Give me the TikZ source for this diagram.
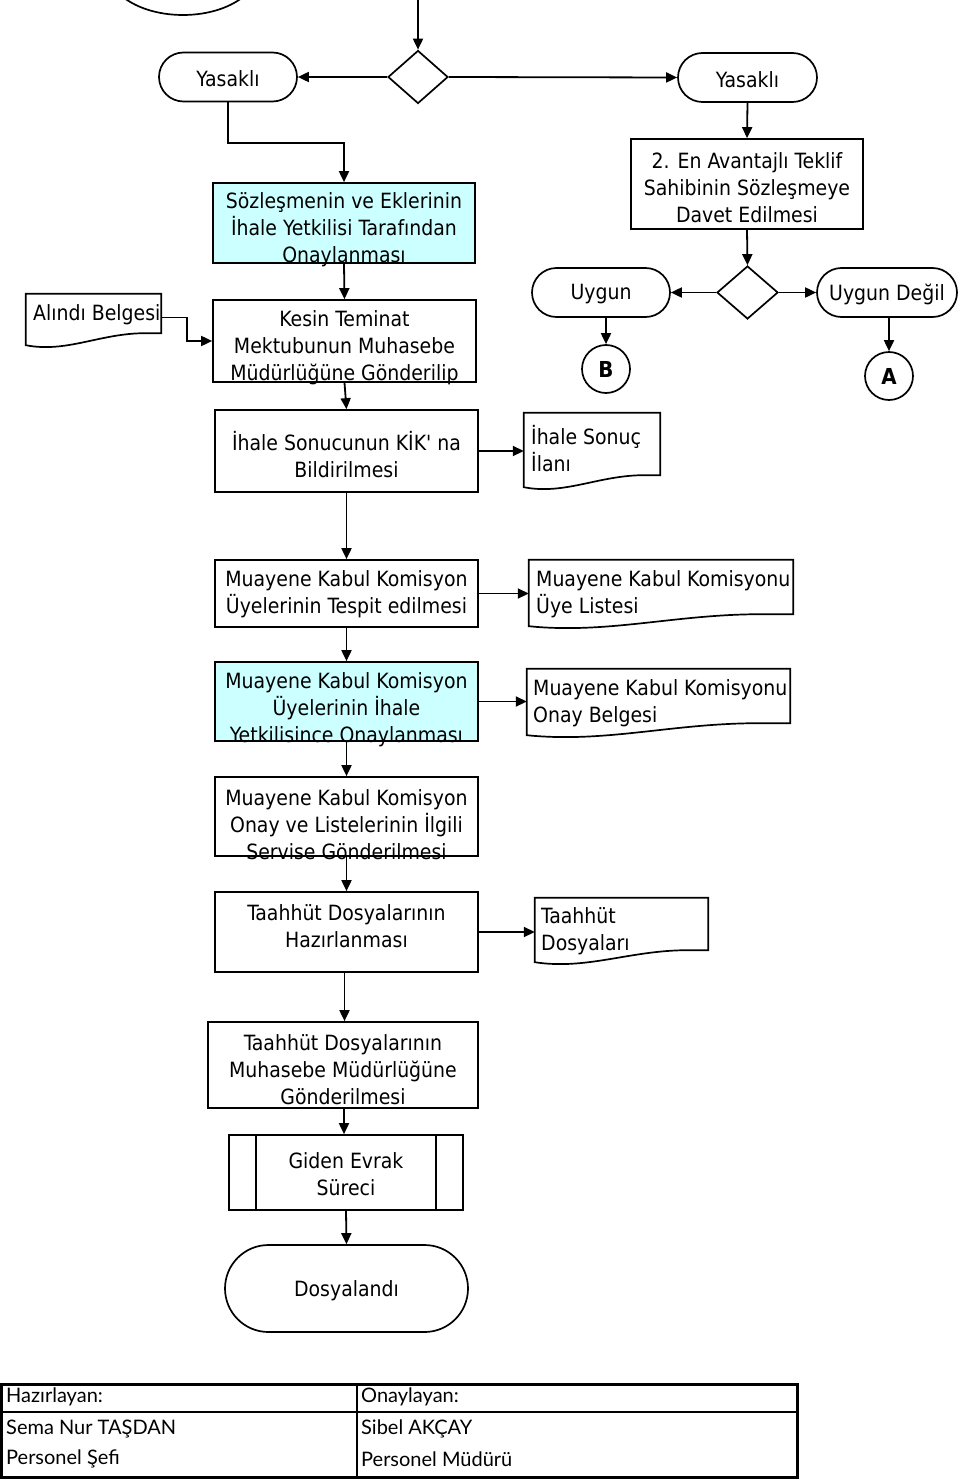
\documentclass[tikz,border=0pt]{standalone}
\usepackage{fontspec}
\setmainfont{DejaVu Sans Condensed}[Ligatures=TeXOff]
\newfontfamily\tablefont{Lato}
\usetikzlibrary{shapes.geometric,shapes.misc,arrows.meta,calc}
\definecolor{cyanbg}{RGB}{204,255,255}
\newcommand{\mainfs}{\fontsize{21}{27}\selectfont}
\newcommand{\docpath}[1]{%
  \draw[line width=1.7pt] (#1.north west) -- (#1.north east) -- (#1.south east)
   -- ($(#1.south west)!0.88!(#1.south east)$)
   .. controls ($(#1.south west)!0.55!(#1.south east)$) and ($(#1.south west)!0.3!(#1.south east)+(0,20)$)
   .. ($(#1.south west)+(0,12)$) -- cycle;}
\tikzset{
  proc/.style={draw, line width=1.7pt, inner sep=0pt},
  procfill/.style={proc, fill=cyanbg},
  term/.style={draw, line width=1.7pt, rounded rectangle, inner sep=0pt},
  dec/.style={draw, diamond, line width=1.7pt, inner sep=0pt},
  conn/.style={draw, circle, line width=1.7pt, minimum size=48pt, inner sep=0pt, font=\fontsize{22}{26}\selectfont\bfseries},
  txt/.style={align=center, font=\mainfs, inner sep=0pt, yshift=-2pt},
  doctxt/.style={align=left, font=\mainfs, inner sep=0pt, anchor=west, yshift=-2pt},
  docnode/.style={inner sep=0pt},
  arr/.style={line width=1.8pt, -{Triangle[length=11pt,width=10pt]}},
  tabtxt/.style={font=\tablefont\fontsize{20}{24}\selectfont, inner sep=0pt, anchor=west}
}
\begin{document}
\begin{tikzpicture}[x=1pt,y=-1pt]
\useasboundingbox (0,0) rectangle (960,1482);
\begin{scope}
\clip (0,0) rectangle (960,1482);
\node[draw, ellipse, line width=1.7pt, minimum width=150pt, minimum height=90pt, inner sep=0pt] (prev) at (183,-30) {};
\end{scope}
\coordinate (topin) at (418,0);

% top row
\node[dec, minimum width=60pt, minimum height=53pt] (dec1) at (418,77) {};
\node[term, minimum width=138pt, minimum height=49pt] (yas1) at (228,77) {};
\node[txt] (yas1t) at (yas1) {Yasaklı};
\node[term, minimum width=139pt, minimum height=49pt] (yas2) at (747.5,77.5) {};
\node[txt] (yas2t) at (yas2) {Yasaklı};

\node[procfill, minimum width=262pt, minimum height=80pt] (s1) at (344,223) {};
\node[txt] (s1t) at ($(s1)+(0,5)$) {Sözleşmenin ve Eklerinin\\İhale Yetkilisi Tarafından\\Onaylanması};

\node[proc, minimum width=232pt, minimum height=90pt] (adv) at (747,184) {};
\node[txt] (advt) at ($(adv)+(0,2)$) {2. En Avantajlı Teklif\\Sahibinin Sözleşmeye\\Davet Edilmesi};

\node[dec, minimum width=61pt, minimum height=53pt] (dec2) at (747.5,292.5) {};
\node[term, minimum width=138pt, minimum height=49pt] (uygun) at (601,292.5) {};
\node[txt] (uygunt) at (uygun) {Uygun};
\node[term, minimum width=140pt, minimum height=49pt] (udegil) at (887,292.5) {};
\node[txt] (udegilt) at (udegil) {Uygun Değil};
\node[conn] (B) at (606,369) {B};
\node[conn] (A) at (889,376) {A};

\node[docnode, minimum width=135pt, minimum height=39pt] (alindi) at (93.5,313.5) {};
\docpath{alindi}
\node[doctxt] (alindit) at (33,313) {Alındı Belgesi};

\node[proc, minimum width=263pt, minimum height=82pt] (kesin) at (344.5,341) {};
\node[txt] (kesint) at ($(kesin)+(0,4.5)$) {Kesin Teminat\\Mektubunun Muhasebe\\Müdürlüğüne Gönderilip};

\node[proc, minimum width=263pt, minimum height=82pt] (ihs) at (346.5,451) {};
\node[txt] (ihst) at ($(ihs)+(0,1.5)$) {İhale Sonucunun KİK' na\\Bildirilmesi};

\node[docnode, minimum width=136pt, minimum height=62pt] (ilan) at (592,444) {};
\docpath{ilan}
\node[doctxt] (ilant) at (531,446.5) {İhale Sonuç\\İlanı};

\node[proc, minimum width=263pt, minimum height=67pt] (mkk1) at (346.5,593.5) {};
\node[txt] (mkk1t) at ($(mkk1)+(0,-1)$) {Muayene Kabul Komisyon\\Üyelerinin Tespit edilmesi};

\node[docnode, minimum width=264pt, minimum height=54pt] (uye) at (661,587) {};
\docpath{uye}
\node[doctxt] (uyet) at (536,592.5) {Muayene Kabul Komisyonu\\Üye Listesi};

\node[procfill, minimum width=263pt, minimum height=79pt] (mkk2) at (346.5,701.5) {};
\node[txt] (mkk2t) at ($(mkk2)+(0,6.5)$) {Muayene Kabul Komisyon\\Üyelerinin İhale\\Yetkilisince Onaylanması};

\node[docnode, minimum width=263pt, minimum height=54pt] (onay) at (658.5,696) {};
\docpath{onay}
\node[doctxt] (onayt) at (533,701.5) {Muayene Kabul Komisyonu\\Onay Belgesi};

\node[proc, minimum width=263pt, minimum height=79pt] (mkk3) at (346.5,816.5) {};
\node[txt] (mkk3t) at ($(mkk3)+(0,6.5)$) {Muayene Kabul Komisyon\\Onay ve Listelerinin İlgili\\Servise Gönderilmesi};

\node[proc, minimum width=263pt, minimum height=80pt] (taah) at (346.5,932) {};
\node[txt] (taaht) at ($(taah)+(0,-7.5)$) {Taahhüt Dosyalarının\\Hazırlanması};

\node[docnode, minimum width=173pt, minimum height=52pt] (tdoc) at (621.5,924) {};
\docpath{tdoc}
\node[doctxt] (tdoct) at (541,929.5) {Taahhüt\\Dosyaları};

\node[proc, minimum width=270pt, minimum height=86pt] (muh) at (343,1065) {};
\node[txt] (muht) at ($(muh)+(0,3)$) {Taahhüt Dosyalarının\\Muhasebe Müdürlüğüne\\Gönderilmesi};

\node[proc, minimum width=234pt, minimum height=75pt] (giden) at (346,1172.5) {};
\draw[line width=1.7pt] ($(giden.north west)+(28,0)$) -- ($(giden.south west)+(28,0)$);
\draw[line width=1.7pt] ($(giden.north east)+(-28,0)$) -- ($(giden.south east)+(-28,0)$);
\node[txt] (gident) at (giden) {Giden Evrak\\Süreci};

\node[term, minimum width=243pt, minimum height=87pt] (dosya) at (346.5,1288.5) {};
\node[txt] (dosyat) at (dosya) {Dosyalandı};

% connectors
\draw[arr] (topin) -- (dec1.north);
\draw[arr] (dec1.west) -- (yas1.east);
\draw[arr] (dec1.east) -- (yas2.west);
\draw[arr] (yas1.south) -- ++(0,41) -| (s1.north);
\draw[arr] (yas2.south) -- (adv.north);
\draw[arr] (adv.south) -- (dec2.north);
\draw[arr] (dec2.west) -- (uygun.east);
\draw[arr] (dec2.east) -- (udegil.west);
\draw[arr] (B.north |- uygun.south) -- (B.north);
\draw[arr] (A.north |- udegil.south) -- (A.north);
\draw[arr] (s1.south) -- (kesin.north);
\draw[arr] ($(alindi.east)+(0,4)$) -- ++(26,0) |- (kesin.west);
\draw[arr] (kesin.south) -- (ihs.north);
\draw[arr] (ihs.east) -- (ihs.east -| ilan.west);
\draw[arr] (ihs.south) -- (mkk1.north);
\draw[arr] (mkk1.east) -- (mkk1.east -| uye.west);
\draw[arr] (mkk1.south) -- (mkk2.north);
\draw[arr] (mkk2.east) -- (mkk2.east -| onay.west);
\draw[arr] (mkk2.south) -- (mkk3.north);
\draw[arr] (mkk3.south) -- (taah.north);
\draw[arr] (taah.east) -- (taah.east -| tdoc.west);
\draw[arr] ($(taah.south)+(-2,0)$) -- ($(taah.south |- muh.north)+(-2,0)$);
\draw[arr] ($(muh.south)+(1,0)$) -- ($(muh.south |- giden.north)+(1,0)$);
\draw[arr] (giden.south) -- (dosya.north);

% table
\draw[line width=3pt] (1.5,1384.5) rectangle (797,1477);
\draw[line width=2pt] (357,1384.5) -- (357,1477);
\draw[line width=2pt] (1.5,1412) -- (797,1412);
\node[tabtxt] (h1) at (6,1397) {Hazırlayan:};
\node[tabtxt] (h2) at (6,1429) {Sema Nur TAŞDAN};
\node[tabtxt] (h3) at (6,1459) {Personel Şefi};
\node[tabtxt] (o1) at (361,1397) {Onaylayan:};
\node[tabtxt] (o2) at (361,1429) {Sibel AKÇAY};
\node[tabtxt] (o3) at (361,1459) {Personel Müdürü};
\end{tikzpicture}
\end{document}
